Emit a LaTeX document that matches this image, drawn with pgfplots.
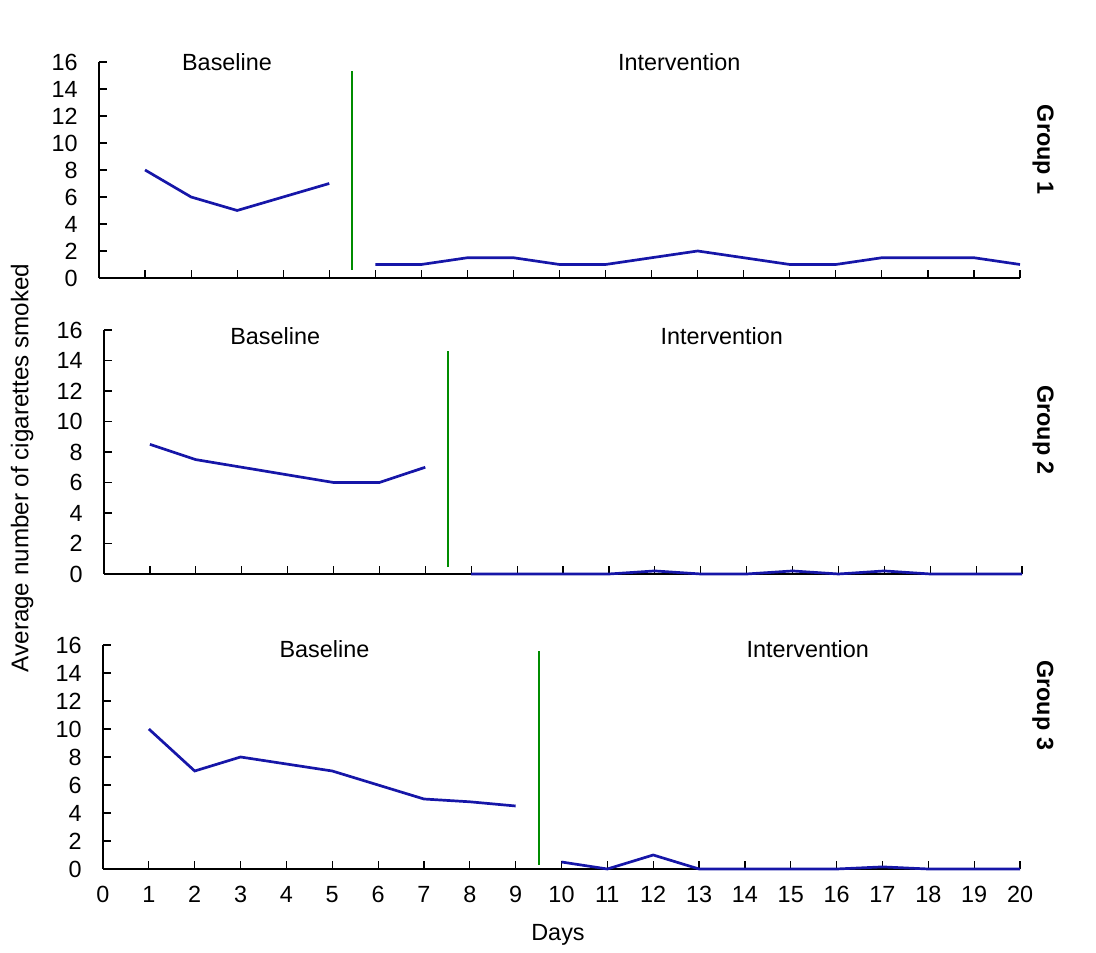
\documentclass[border=0pt]{standalone}
\usepackage{fontspec}
\setmainfont{Liberation Sans}
\usepackage{pgfplots}
\pgfplotsset{compat=1.18}
\definecolor{lineblue}{RGB}{22,22,168}
\definecolor{divgreen}{RGB}{0,140,0}
\pgfplotsset{
  panel/.style={
    scale only axis, anchor=south west,
    axis x line=bottom, axis y line=left,
    axis line style={-, line width=0.75pt, black},
    xmin=0, xmax=20, ymin=0, ymax=16,
    ytick={0,2,...,16}, xtick={1,...,20},
    tick align=inside, major tick length=4pt,
    tick style={black, line width=0.6pt},
    clip=false,
    font=\fontsize{11.7}{13}\selectfont,
    /pgf/number format/assume math mode=true,
    yticklabel style={inner sep=0pt, anchor=east, xshift=-10.5pt},
    xticklabel style={inner sep=0pt, anchor=north, yshift=-8.5pt},
  },
  dat/.style={lineblue, line width=1.35pt, mark=none},
  div/.style={divgreen, line width=1pt, mark=none},
}
\tikzset{grp/.style={rotate=-90, font=\fontsize{11.7}{13}\selectfont\bfseries}}
\begin{document}
\begin{tikzpicture}
\path (0,0) rectangle (548pt,473.5pt);
% Group 1
\begin{axis}[panel, at={(49.5pt,334.5pt)}, width=460.5pt, height=108pt, xticklabels={}]
\addplot[dat] coordinates {(1,8)(2,6)(3,5)(4,6)(5,7)};
\addplot[dat] coordinates {(6,1)(7,1)(8,1.5)(9,1.5)(10,1)(11,1)(12,1.5)(13,2)(14,1.5)(15,1)(16,1)(17,1.5)(18,1.5)(19,1.5)(20,1)};
\addplot[div] coordinates {(5.5,0.6)(5.5,15.3)};
\node at (axis cs:2.78,16) {Baseline};
\node at (axis cs:12.6,16) {Intervention};
\node[grp] at (axis cs:20.5,9.5) {Group 1};
\end{axis}
% Group 2
\begin{axis}[panel, at={(52pt,186.5pt)}, width=459pt, height=122pt, xticklabels={}]
\addplot[dat] coordinates {(1,8.5)(2,7.5)(3,7)(4,6.5)(5,6)(6,6)(7,7)};
\addplot[dat] coordinates {(8,0)(9,0)(10,0)(11,0)(12,0.2)(13,0)(14,0)(15,0.2)(16,0)(17,0.2)(18,0)(19,0)(20,0)};
\addplot[div] coordinates {(7.5,0.45)(7.5,14.6)};
\node at (axis cs:3.73,15.57) {Baseline};
\node at (axis cs:13.46,15.57) {Intervention};
\node[grp] at (axis cs:20.46,9.44) {Group 2};
\end{axis}
% Group 3
\begin{axis}[panel, at={(51.5pt,39pt)}, width=458.5pt, height=112pt, xtick={0,...,20}]
\addplot[dat] coordinates {(1,10)(2,7)(3,8)(4,7.5)(5,7)(6,6)(7,5)(8,4.8)(9,4.5)};
\addplot[dat] coordinates {(10,0.5)(11,0)(12,1)(13,0)(14,0)(15,0)(16,0)(17,0.15)(18,0)(19,0)(20,0)};
\addplot[div] coordinates {(9.5,0.3)(9.5,15.6)};
\node at (axis cs:4.83,15.7) {Baseline};
\node at (axis cs:15.37,15.7) {Intervention};
\node[grp] at (axis cs:20.5,11.7) {Group 3};
\end{axis}
\node[font=\fontsize{11.7}{13}\selectfont] at (279pt,6pt) {Days};
\node[rotate=90, font=\fontsize{12.1}{14}\selectfont] at (11pt,239.5pt) {Average number of cigarettes smoked};
\end{tikzpicture}
\end{document}
